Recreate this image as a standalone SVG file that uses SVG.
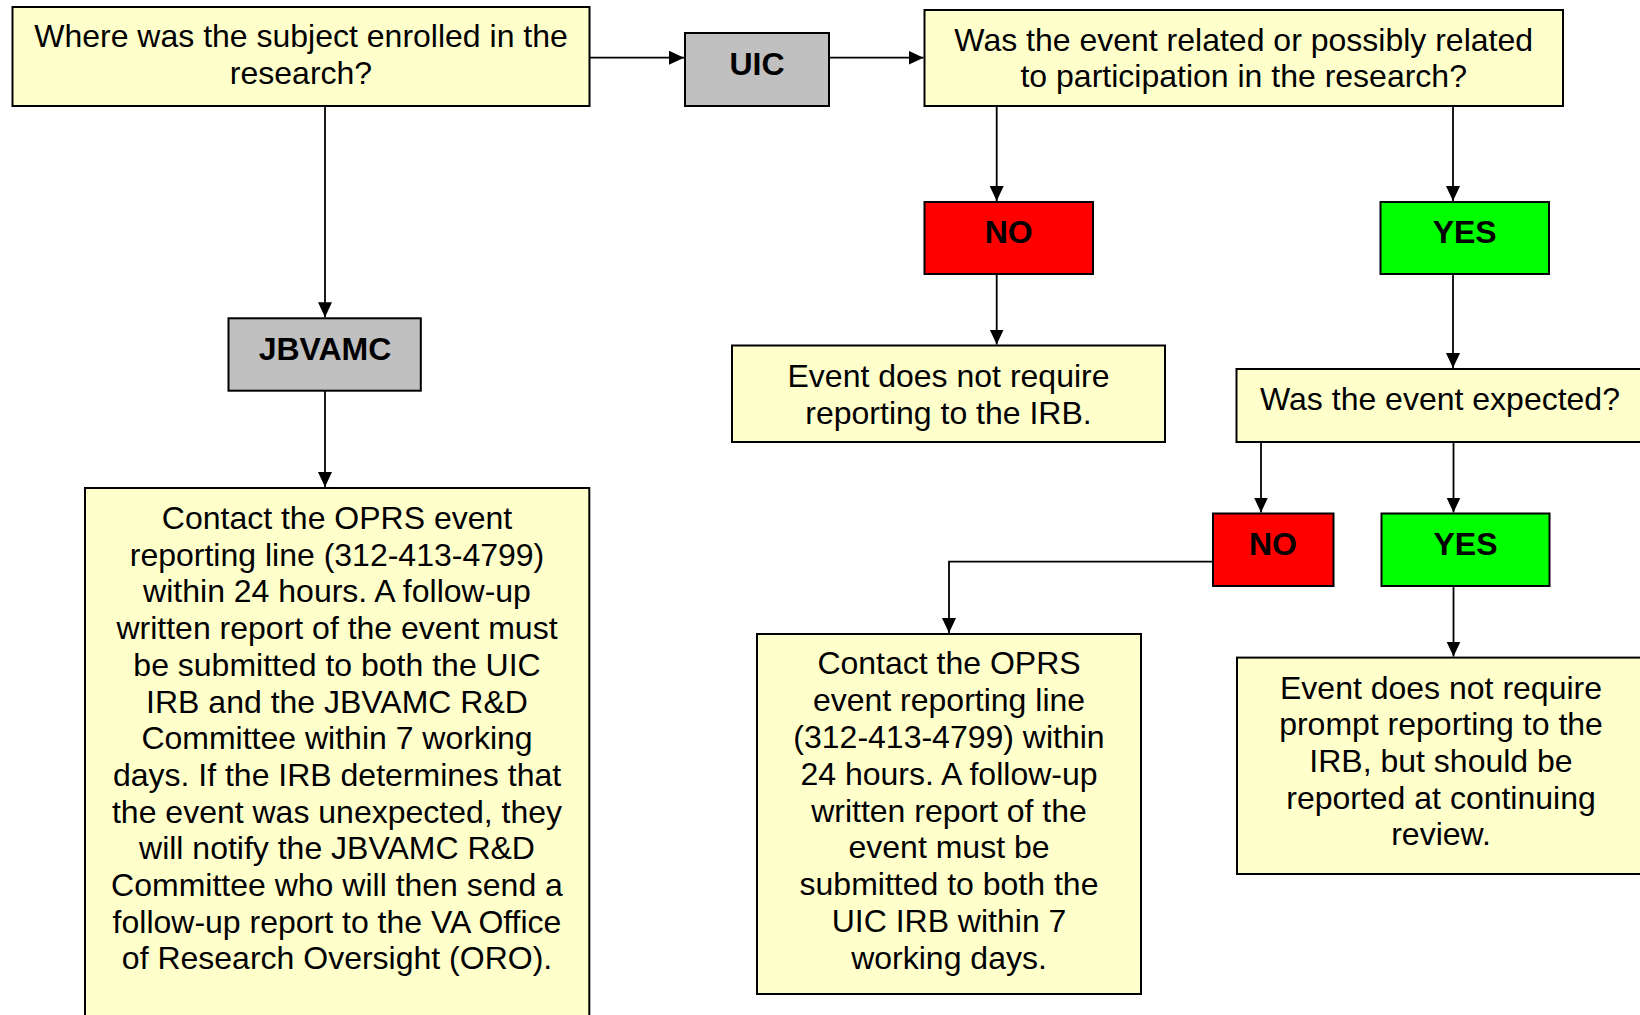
<svg xmlns="http://www.w3.org/2000/svg" width="1640" height="1015" viewBox="0 0 1640 1015">
<style>
.box{stroke:#000;stroke-width:2}
.y{fill:#FFFFCC}.g{fill:#C0C0C0}.r{fill:#FF0000}.gr{fill:#00FF00}
text{font-family:"Liberation Sans",Arial,sans-serif;font-size:32px;fill:#000;text-anchor:middle}
.b{font-weight:bold}
.c{fill:none;stroke:#000;stroke-width:1.8}
</style>
<defs>
<marker id="ah" markerUnits="userSpaceOnUse" markerWidth="16" markerHeight="15" refX="15" refY="7" orient="auto">
<path d="M0,0 L15,7 L0,14 Z" fill="#000"/>
</marker>
</defs>
<rect width="1640" height="1015" fill="#fff"/>
<g id="connectors">
<path class="c" d="M589.5,57.7 H684" marker-end="url(#ah)"/>
<path class="c" d="M829,57.7 H923.5" marker-end="url(#ah)"/>
<path class="c" d="M325,106 V317.3" marker-end="url(#ah)"/>
<path class="c" d="M325,391 V487" marker-end="url(#ah)"/>
<path class="c" d="M996.7,106 V201" marker-end="url(#ah)"/>
<path class="c" d="M1453,106 V201" marker-end="url(#ah)"/>
<path class="c" d="M996.7,274 V344.5" marker-end="url(#ah)"/>
<path class="c" d="M1453,274 V368" marker-end="url(#ah)"/>
<path class="c" d="M1261,442 V512.5" marker-end="url(#ah)"/>
<path class="c" d="M1453.5,442 V512.5" marker-end="url(#ah)"/>
<path class="c" d="M1213,561.7 H949 V633" marker-end="url(#ah)"/>
<path class="c" d="M1453.5,586 V656.6" marker-end="url(#ah)"/>
</g>
<g id="where">
<rect class="box y" x="12.5" y="7" width="577" height="99"/>
<text x="301" y="47">Where was the subject enrolled in the</text>
<text x="301" y="83.8">research?</text>
</g>
<g id="uic">
<rect class="box g" x="685" y="33" width="144" height="73"/>
<text class="b" x="757" y="75">UIC</text>
</g>
<g id="related">
<rect class="box y" x="924.5" y="10" width="638.5" height="96"/>
<text x="1243.7" y="50.5">Was the event related or possibly related</text>
<text x="1243.7" y="87.3">to participation in the research?</text>
</g>
<g id="jbvamc">
<rect class="box g" x="228.5" y="318.3" width="192.3" height="72.4"/>
<text class="b" x="325" y="360">JBVAMC</text>
</g>
<g id="no1">
<rect class="box r" x="924.5" y="202" width="168.5" height="72"/>
<text class="b" x="1008.7" y="242.7">NO</text>
</g>
<g id="yes1">
<rect class="box gr" x="1380.5" y="202" width="168.5" height="72"/>
<text class="b" x="1464.7" y="242.7">YES</text>
</g>
<g id="noreport">
<rect class="box y" x="732" y="345.5" width="433" height="96.5"/>
<text x="948.5" y="387">Event does not require</text>
<text x="948.5" y="423.8">reporting to the IRB.</text>
</g>
<g id="expected">
<rect class="box y" x="1236.5" y="369" width="420" height="73"/>
<text x="1440" y="409.5">Was the event expected?</text>
</g>
<g id="no2">
<rect class="box r" x="1213" y="513.5" width="120.5" height="72.5"/>
<text class="b" x="1273" y="555">NO</text>
</g>
<g id="yes2">
<rect class="box gr" x="1381.5" y="513.5" width="168" height="72.5"/>
<text class="b" x="1465.5" y="555">YES</text>
</g>
<g id="jbvamc-report">
<rect class="box y" x="85" y="488" width="504.3" height="560"/>
<text x="337" y="529"><tspan x="337" dy="0">Contact the OPRS event</tspan><tspan x="337" dy="36.7">reporting line (312-413-4799)</tspan><tspan x="337" dy="36.7">within 24 hours. A follow-up</tspan><tspan x="337" dy="36.7">written report of the event must</tspan><tspan x="337" dy="36.7">be submitted to both the UIC</tspan><tspan x="337" dy="36.7">IRB and the JBVAMC R&amp;D</tspan><tspan x="337" dy="36.7">Committee within 7 working</tspan><tspan x="337" dy="36.7">days. If the IRB determines that</tspan><tspan x="337" dy="36.7">the event was unexpected, they</tspan><tspan x="337" dy="36.7">will notify the JBVAMC R&amp;D</tspan><tspan x="337" dy="36.7">Committee who will then send a</tspan><tspan x="337" dy="36.7">follow-up report to the VA Office</tspan><tspan x="337" dy="36.7">of Research Oversight (ORO).</tspan></text>
</g>
<g id="uic-report">
<rect class="box y" x="757" y="634" width="384" height="360"/>
<text x="949" y="674.4"><tspan x="949" dy="0">Contact the OPRS</tspan><tspan x="949" dy="36.8">event reporting line</tspan><tspan x="949" dy="36.8">(312-413-4799) within</tspan><tspan x="949" dy="36.8">24 hours. A follow-up</tspan><tspan x="949" dy="36.8">written report of the</tspan><tspan x="949" dy="36.8">event must be</tspan><tspan x="949" dy="36.8">submitted to both the</tspan><tspan x="949" dy="36.8">UIC IRB within 7</tspan><tspan x="949" dy="36.8">working days.</tspan></text>
</g>
<g id="continuing">
<rect class="box y" x="1237" y="657.6" width="420" height="216.4"/>
<text x="1441" y="698.5"><tspan x="1441" dy="0">Event does not require</tspan><tspan x="1441" dy="36.7">prompt reporting to the</tspan><tspan x="1441" dy="36.7">IRB, but should be</tspan><tspan x="1441" dy="36.7">reported at continuing</tspan><tspan x="1441" dy="36.7">review.</tspan></text>
</g>
</svg>
